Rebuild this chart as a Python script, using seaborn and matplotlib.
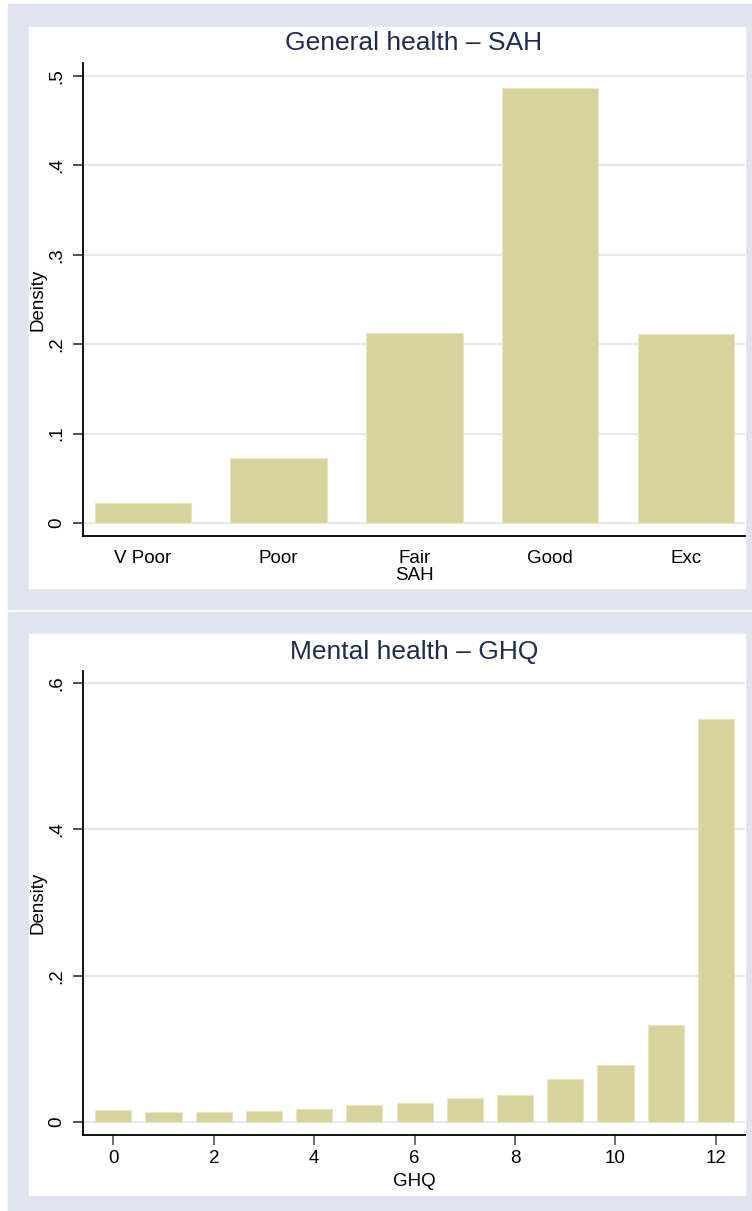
import matplotlib
matplotlib.use("Agg")
import matplotlib.pyplot as plt
from matplotlib.patches import Rectangle
import seaborn as sns

# %% Data
sah_labels = ["V Poor", "Poor", "Fair", "Good", "Exc"]
sah_density = [0.0224, 0.0724, 0.2125, 0.4870, 0.2114]

ghq_scores = list(range(13))
ghq_density = [0.0164, 0.0141, 0.0132, 0.0155, 0.0173, 0.0237, 0.0260,
               0.0328, 0.0373, 0.0583, 0.0779, 0.1326, 0.5503]

sah_yticks = [0, 0.1, 0.2, 0.3, 0.4, 0.5]
sah_yticklabels = ["0", ".1", ".2", ".3", ".4", ".5"]
ghq_yticks = [0, 0.2, 0.4, 0.6]
ghq_yticklabels = ["0", ".2", ".4", ".6"]
ghq_xticks = [0, 2, 4, 6, 8, 10, 12]

# %% Style
sns.set_theme(style="white")
plt.rcParams["font.family"] = ["Liberation Sans", "DejaVu Sans"]
plt.rcParams["text.color"] = "black"
plt.rcParams["axes.labelcolor"] = "black"
plt.rcParams["xtick.color"] = "black"
plt.rcParams["ytick.color"] = "black"

BAR = "#d8d29e"
OUTER = "#e0e4ef"
GRID = "#e2e6f1"
TITLE = "#1c2d4f"
W, H = 752, 1211

fig = plt.figure(figsize=(W / 100, H / 100), dpi=100)


def px_rect(x0, y0, x1, y1, color):
    fig.patches.append(Rectangle((x0 / W, 1 - y1 / H), (x1 - x0) / W, (y1 - y0) / H,
                                 transform=fig.transFigure, color=color, zorder=-10))


def px_axes(x0, y0, x1, y1):
    return fig.add_axes([x0 / W, 1 - y1 / H, (x1 - x0) / W, (y1 - y0) / H])


# panel backgrounds
px_rect(8, 4, 760, 609, OUTER)
px_rect(29, 27, 745, 588, "white")
px_rect(8, 612, 760, 1220, OUTER)
px_rect(29, 634, 745, 1195, "white")


def style_axes(ax, yticks, yticklabels):
    ax.set_facecolor("white")
    ax.set_yticks(yticks)
    ax.set_yticklabels(yticklabels, rotation=90, va="center", fontsize=13.5)
    ax.yaxis.grid(True, color=GRID, lw=1.3)
    ax.set_axisbelow(True)
    for s in ["top", "right"]:
        ax.spines[s].set_visible(False)
    for s in ["left", "bottom"]:
        ax.spines[s].set_color("black")
        ax.spines[s].set_linewidth(1.3)
    ax.tick_params(axis="y", left=True, length=7, width=1.2, color="#333333", pad=6)
    ax.set_ylabel("Density", fontsize=13.5, labelpad=1)


# %% General health - SAH
ax1 = px_axes(83, 63, 745, 536)
sns.barplot(x=sah_labels, y=sah_density, color=BAR, saturation=1, width=0.71,
            edgecolor="#e9e6c6", linewidth=0.8, ax=ax1)
ax1.set_xlim(-0.442, 4.437)
ax1.set_ylim(-0.0145, 0.5145)
style_axes(ax1, sah_yticks, sah_yticklabels)
ax1.tick_params(axis="x", bottom=False, labelsize=13.5, pad=4)
ax1.set_xlabel("SAH", fontsize=13.5, labelpad=0)
ax1.set_title("General health \u2013 SAH", fontsize=19, color=TITLE, pad=9)

# %% Mental health - GHQ
ax2 = px_axes(83, 671, 745, 1135)
sns.barplot(x=ghq_scores, y=ghq_density, color=BAR, saturation=1, width=0.72,
            edgecolor="#e9e6c6", linewidth=0.8, native_scale=True, ax=ax2)
ax2.set_xlim(-0.604, 12.58)
ax2.set_ylim(-0.0178, 0.6164)
ax2.set_xticks(ghq_xticks)
ax2.set_xticklabels([str(t) for t in ghq_xticks])
style_axes(ax2, ghq_yticks, ghq_yticklabels)
ax2.tick_params(axis="x", bottom=True, length=7, width=1.2, color="#555555",
                labelsize=13.5, pad=4)
ax2.set_xlabel("GHQ", fontsize=13.5, labelpad=4)
ax2.set_title("Mental health \u2013 GHQ", fontsize=19, color=TITLE, pad=9)

fig.savefig("out.png", dpi=100)
